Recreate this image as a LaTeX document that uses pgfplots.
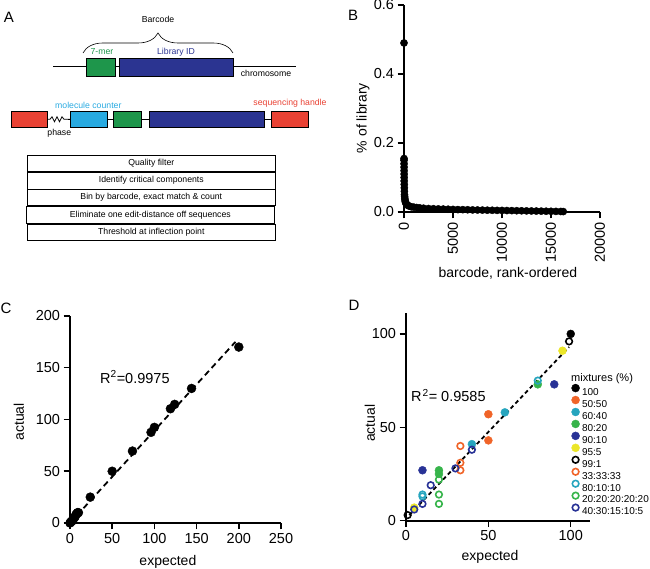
\documentclass[border=0pt]{standalone}
\usepackage{fontspec}
\setmainfont{Liberation Sans}
\usepackage{pgfplots}
\pgfplotsset{compat=1.18}
\usetikzlibrary{decorations.pathreplacing}

\definecolor{cRed}{RGB}{233,66,52}
\definecolor{cGreen}{RGB}{30,150,75}
\definecolor{cNavy}{RGB}{43,52,145}
\definecolor{cCyan}{RGB}{40,170,225}
\definecolor{mOrange}{RGB}{240,100,40}
\definecolor{mTeal}{RGB}{38,165,190}
\definecolor{mGreen}{RGB}{55,180,75}
\definecolor{mNavy}{RGB}{40,50,150}
\definecolor{mYellow}{RGB}{235,230,40}

\pgfplotsset{
  prism/.style={
    scale only axis,
    axis lines=left,
    axis line style={-, line width=1.7pt},
    every tick/.style={line width=1.5pt, black},
    major tick length=6.5pt,
    tick align=outside,
    tick label style={font=\fontsize{14.5}{16}\selectfont},
    label style={font=\fontsize{14}{16}\selectfont},
    /pgf/number format/assume math mode=true,
    scaled ticks=false,
    clip=false,
  },
  dotlegend/.style={legend image code/.code={%
    \path[draw=none,fill=none] (-4.2pt,-0.7pt) rectangle (4.2pt,7.9pt);
    \draw[##1] plot coordinates {(0pt,3.6pt)};}},
}

\begin{document}
\begin{tikzpicture}
\path[use as bounding box] (0,0) rectangle (650pt,569pt);

% ---------------- Panel A (diagram) ----------------
\begin{scope}[x=1pt,y=-1pt,shift={(0pt,569pt)},font=\fontsize{8.7}{10}\selectfont]
  \node at (9,17) {\fontsize{15}{17}\selectfont A};
  \node at (158,19) {Barcode};
  \draw[line width=0.6pt, decorate, decoration={brace, amplitude=20pt}] (83,53) -- (233,53);
  \node[text=cGreen] at (102,52) {7-mer};
  \node[text=cNavy] at (176,52) {Library ID};
  \draw[line width=0.8pt] (53,66.7) -- (296,66.7);
  \draw[fill=cGreen, line width=0.8pt] (86,58.3) rectangle (115,76.7);
  \draw[fill=cNavy, line width=0.8pt] (119,58.3) rectangle (233,76.7);
  \node at (266,73) {chromosome};
  % row 2
  \draw[line width=0.8pt] (68,119.3) -- (272,119.3);
  \draw[line width=0.8pt] (47.7,119.3) -- (50,119.3) -- (52,116.8) -- (54.5,121.8) -- (57,116.8) -- (59.5,121.8) -- (62,116.8) -- (64,119.3) -- (70,119.3);
  \draw[fill=cRed, line width=0.8pt] (11.7,111) rectangle (47.7,127.7);
  \draw[fill=cCyan, line width=0.8pt] (70,111) rectangle (107.3,127.7);
  \draw[fill=cGreen, line width=0.8pt] (113.3,111) rectangle (141.7,127.7);
  \draw[fill=cNavy, line width=0.8pt] (149,111) rectangle (264,127.7);
  \draw[fill=cRed, line width=0.8pt] (271.7,111) rectangle (308.3,127.7);
  \node[text=cCyan] at (88.3,105.3) {molecule counter};
  \node[text=cRed] at (290,103.3) {sequencing handle};
  \node at (59.3,133.3) {phase};
  % table
  \draw[line width=0.9pt] (27.7,155) rectangle (275,171.7);
  \node at (151.3,163.3) {Quality filter};
  \draw[line width=0.9pt] (27.7,172.3) rectangle (275,189);
  \node at (151.3,180.6) {Identify critical components};
  \draw[line width=0.9pt] (27.7,189.7) rectangle (275,205.7);
  \node at (151.3,197.7) {Bin by barcode, exact match \& count};
  \draw[line width=0.9pt] (26.7,206.7) rectangle (274,223.3);
  \node at (150.3,215) {Eliminate one edit-distance off sequences};
  \draw[line width=0.9pt] (27.7,224) rectangle (275,240);
  \node at (151.3,232) {Threshold at inflection point};
\end{scope}

% panel letters
\node[font=\fontsize{15}{17}\selectfont] at (353pt,554pt) {B};
\node[font=\fontsize{15}{17}\selectfont] at (6pt,261pt) {C};
\node[font=\fontsize{15}{17}\selectfont] at (354pt,264pt) {D};

% ---------------- Panel B ----------------
\begin{axis}[prism,
  at={(404pt,357pt)}, anchor=south west, width=196pt, height=207pt,
  xmin=0, xmax=20000, ymin=0, ymax=0.6,
  xtick={0,5000,10000,15000,20000}, xticklabels={0,5000,10000,15000,20000},
  xticklabel style={rotate=90, anchor=east},
  ytick={0,0.2,0.4,0.6}, yticklabels={0.0,0.2,0.4,0.6},
  xlabel={barcode, rank-ordered}, ylabel={\% of library},
  xlabel style={at={(axis description cs:0.53,-0.295)}, anchor=center},
  ylabel style={at={(axis description cs:-0.209,0.454)}, anchor=center},
]
\addplot[only marks, mark=*, mark size=3.6pt, black] coordinates {
(1,0.49) (3,0.155) (5,0.15) (7,0.14) (9,0.13) (12,0.12) (15,0.11) (18,0.10) (22,0.09)
(27,0.08) (33,0.07) (40,0.06) (50,0.05) (65,0.045) (80,0.04) (100,0.035) (130,0.03)
(170,0.027) (220,0.024) (300,0.021) (400,0.019) (550,0.017) (750,0.015) (1000,0.014)
(1300,0.013) (1600,0.012) (2000,0.011) (2500,0.010) (3000,0.0095) (3500,0.009)
(4000,0.0085) (4500,0.008) (5000,0.0075) (5500,0.007) (6000,0.0068) (6500,0.0065)
(7000,0.006) (7500,0.0058) (8000,0.0055) (8500,0.0052) (9000,0.005) (9500,0.0047)
(10000,0.0045) (10500,0.0042) (11000,0.004) (11500,0.0037) (12000,0.0035) (12500,0.0032)
(13000,0.003) (13500,0.0027) (14000,0.0025) (14500,0.0022) (15000,0.002) (15500,0.0017)
(16000,0.0015) (16250,0.0012)
};
\end{axis}

% ---------------- Panel C ----------------
\begin{axis}[prism,
  at={(70pt,46pt)}, anchor=south west, width=211pt, height=207pt,
  xmin=0, xmax=250, ymin=0, ymax=200,
  xtick={0,50,100,150,200,250}, ytick={0,50,100,150,200},
  xlabel={expected}, ylabel={actual},
  xlabel style={at={(axis description cs:0.464,-0.188)}, anchor=center},
  ylabel style={at={(axis description cs:-0.242,0.488)}, anchor=center},
]
\addplot[black, line width=1.8pt, dash pattern=on 6pt off 4pt] coordinates {(0,0) (196,175)};
\addplot[only marks, mark=*, mark size=4.5pt, black] coordinates {
(0,0) (1,1) (2,1.5) (3,3) (4,4) (5,5) (6,6) (7,8) (8,9) (9,10) (10,10)
(24,25) (50,50) (74,69.5) (96,87.6) (100,92.4) (119,110.4) (124,114.6) (144,130) (200,170)
};
\node[anchor=west, inner sep=0pt, font=\fontsize{14.5}{16}\selectfont] at (axis cs:35.5,141) {R\textsuperscript{2}=0.9975};
\end{axis}

% ---------------- Panel D ----------------
\begin{axis}[prism,
  at={(406pt,48.3pt)}, anchor=south west, width=184pt, height=207.7pt,
  xmin=0, xmax=111.7, ymin=0, ymax=111.2,
  xtick={0,50,100}, ytick={0,50,100},
  xlabel={expected}, ylabel={actual},
  xlabel style={at={(axis description cs:0.457,-0.173)}, anchor=center},
  ylabel style={at={(axis description cs:-0.196,0.469)}, anchor=center},
  legend style={at={(axis cs:100.4,73.3)}, anchor=north west, draw=none, fill=none,
    inner sep=0pt, outer sep=0pt, font=\fontsize{10}{11}\selectfont,
    row sep=0.3pt, column sep=2.3pt,
    nodes={inner sep=0pt, text height=7.5pt, text depth=0pt}},
  legend cell align=left,
]
\addplot[black, line width=1.8pt, dash pattern=on 4pt off 3pt, forget plot] coordinates {(2,3) (99,93)};
\addplot[only marks, mark=*, mark size=4pt, black, dotlegend] coordinates {(100,100)};
\addlegendentry{100}
\addplot[only marks, mark=*, mark size=4pt, mOrange, dotlegend] coordinates {(50,57) (50,43)};
\addlegendentry{50:50}
\addplot[only marks, mark=*, mark size=4pt, mTeal, dotlegend] coordinates {(60,58) (40,41)};
\addlegendentry{60:40}
\addplot[only marks, mark=*, mark size=4pt, mGreen, dotlegend] coordinates {(80,73) (20,27) (20,25)};
\addlegendentry{80:20}
\addplot[only marks, mark=*, mark size=4pt, mNavy, dotlegend] coordinates {(90,73) (10,27)};
\addlegendentry{90:10}
\addplot[only marks, mark=*, mark size=4pt, mYellow, dotlegend] coordinates {(95,91) (5,7)};
\addlegendentry{95:5}
\addplot[only marks, mark=o, mark size=3.3pt, line width=1.6pt, black, dotlegend] coordinates {(99,96) (1,3)};
\addlegendentry{99:1}
\addplot[only marks, mark=o, mark size=3.3pt, line width=1.6pt, mOrange, dotlegend] coordinates {(33,40) (33,31) (33,27)};
\addlegendentry{33:33:33}
\addplot[only marks, mark=o, mark size=3.3pt, line width=1.6pt, mTeal, dotlegend] coordinates {(80,75) (10,14) (10,13)};
\addlegendentry{80:10:10}
\addplot[only marks, mark=o, mark size=3.3pt, line width=1.6pt, mGreen, dotlegend] coordinates {(20,22) (20,14) (20,9)};
\addlegendentry{20:20:20:20:20}
\addplot[only marks, mark=o, mark size=3.3pt, line width=1.6pt, mNavy, dotlegend] coordinates {(40,38) (30,28) (15,19) (10,9) (5,6)};
\addlegendentry{40:30:15:10:5}
\node[anchor=west, inner sep=0pt, font=\fontsize{14.5}{16}\selectfont] at (axis cs:3,67) {R\kern1pt\textsuperscript{2}= 0.9585};
\end{axis}
\node[anchor=west, inner sep=0pt, font=\fontsize{11}{12}\selectfont] at (571pt,190pt) {mixtures (\%)};
\end{tikzpicture}
\end{document}
